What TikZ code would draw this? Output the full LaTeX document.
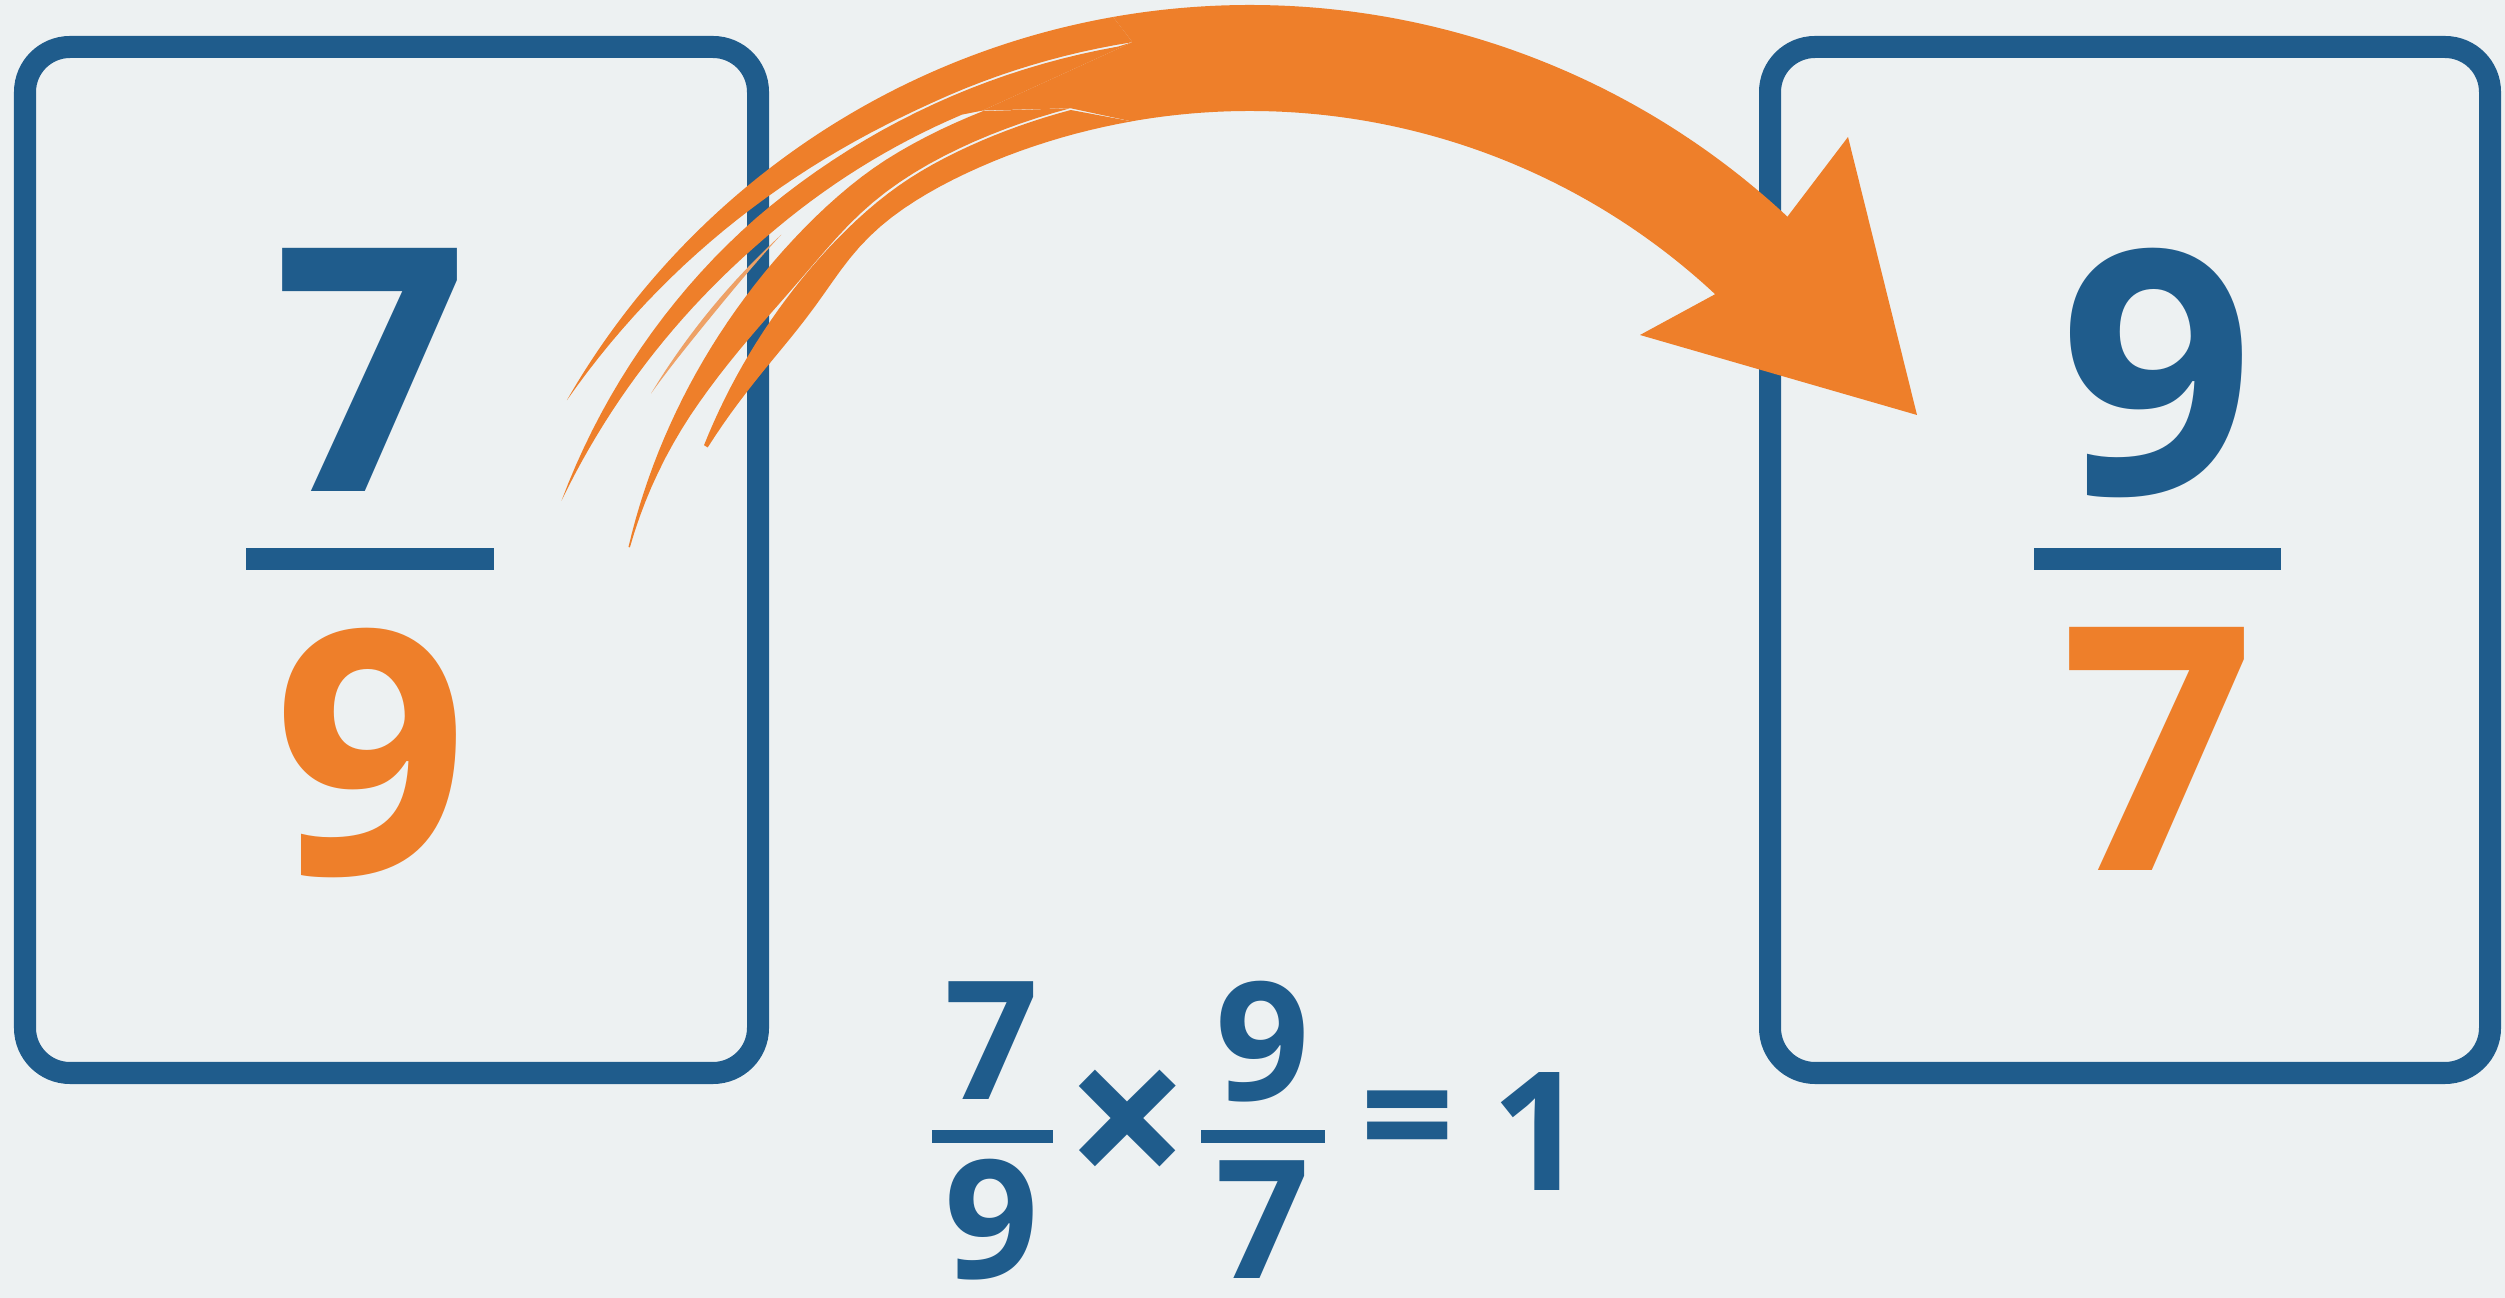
\documentclass[tikz,border=0pt]{standalone}
\usepackage{fontspec}
\newfontfamily\numfont{Open Sans}
\definecolor{bgc}{HTML}{EDF1F2}
\definecolor{blu}{HTML}{1F5C8C}
\definecolor{org}{HTML}{EE7F2A}
\begin{document}
\begin{tikzpicture}[x=0.01cm,y=-0.01cm,
  card/.style={draw=blu, line width=0.22cm, rounded corners=0.45cm},
  fbar/.style={fill=blu},
  bigdig/.style={inner sep=0pt, anchor=base, font={\numfont\bfseries\fontsize{97}{100}\selectfont}},
  smalldig/.style={inner sep=0pt, anchor=base, text=blu, font={\numfont\bfseries\fontsize{47}{50}\selectfont}},
  opsym/.style={inner sep=0pt, anchor=center, text=blu, font={\numfont\bfseries\fontsize{47}{50}\selectfont}},
  strand/.style={fill=org},
  faint/.style={fill=org!70!bgc},
  smp/.style={samples=40, variable=\t}]
\fill[bgc] (0,0) rectangle (2505,1298);
\useasboundingbox (0,0) rectangle (2505,1298);
% cards
\draw[card] (25,47) rectangle (758,1073);
\draw[card] (1770,47) rectangle (2490,1073);
% left fraction
\node[bigdig, text=blu] (lnum) at (371,492) {7};
\fill[fbar] (246,548) rectangle (494,570);
\node[bigdig, text=org] (lden) at (371,875) {9};
% right fraction
\node[bigdig, text=blu] (rnum) at (2157,495) {9};
\fill[fbar] (2034,548) rectangle (2281,570);
\node[bigdig, text=org] (rden) at (2158,871) {7};
% equation
\node[smalldig] (e1n) at (992,1100) {7};
\fill[fbar] (932,1130) rectangle (1053,1143);
\node[smalldig] (e1d) at (992,1279) {9};
\node[opsym, font={\numfont\bfseries\fontsize{62}{64}\selectfont}] (times) at (1128,1133) {×};
\node[smalldig] (e2n) at (1263,1101) {9};
\fill[fbar] (1201,1130) rectangle (1325,1143);
\node[smalldig] (e2d) at (1263,1279) {7};
\node[opsym] (eq) at (1408,1132) {=};
\node[smalldig] (one) at (1539,1191) {1};
% curved arrow, drawn in polar coordinates about (1250,793)
\begin{scope}[shift={(1250,793)}]
% main band with head
\fill[strand] (260:788) arc[start angle=260, end angle=313, radius=788]
  -- (598,-656) -- (667,-378) -- (390,-458) -- (313:682)
  arc[start angle=313, end angle=260, radius=682]
  -- (255.3:708) -- (248.6:733) -- (261.1:760) -- cycle;
% strand A
\fill[strand] (260:788) arc[start angle=260, end angle=209.9, radius=788]
  -- plot[smp, domain=60.1:8.9] ({270-\t}:{760+28*max(0,(\t-25)/35.1)*sqrt(max(0,(\t-25)/35.1))}) -- cycle;
% strand B
\fill[strand] (261.1:760)
  -- plot[smp, domain=10:67] ({270-\t}:{758-10*max(0,(\t-40)/27)*sqrt(max(0,(\t-40)/27))})
  -- plot[smp, domain=67:23] ({270-\t}:{737+11*max(0,(\t-40)/27)*sqrt(max(0,(\t-40)/27))})
  -- (248.6:733) -- cycle;
% strand C
\fill[strand] plot[smp, domain=21.4:68.4] ({270-\t}:{733-0.86*((\t-31)+sqrt((\t-31)*(\t-31)+16))})
  -- plot[smp, domain=68.4:14.7] ({270-\t}:{708-16.5*(1+tanh((\t-37)/7))-8*max(0,(\t-55)/13.4)*max(0,(\t-55)/13.4)})
  -- cycle;
% strand D
\fill[strand] plot[smp, domain=14.7:57.5] ({270-\t}:{707-1.075*((\t-30)+sqrt((\t-30)*(\t-30)+25))})
  -- plot[smp, domain=57.5:10] ({270-\t}:{682-19.5*(1+tanh((\t-38.5)/6))})
  -- cycle;
% faint thin strand
\fill[faint] plot[smp, domain=40:56.3] ({270-\t}:{720+9*(56.3-\t)/16.3})
  -- plot[smp, domain=56.3:40] ({270-\t}:{720+9*(56.3-\t)/16.3-5*sin(180*(56.3-\t)/16.3)})
  -- cycle;
\end{scope}
\end{tikzpicture}
\end{document}
